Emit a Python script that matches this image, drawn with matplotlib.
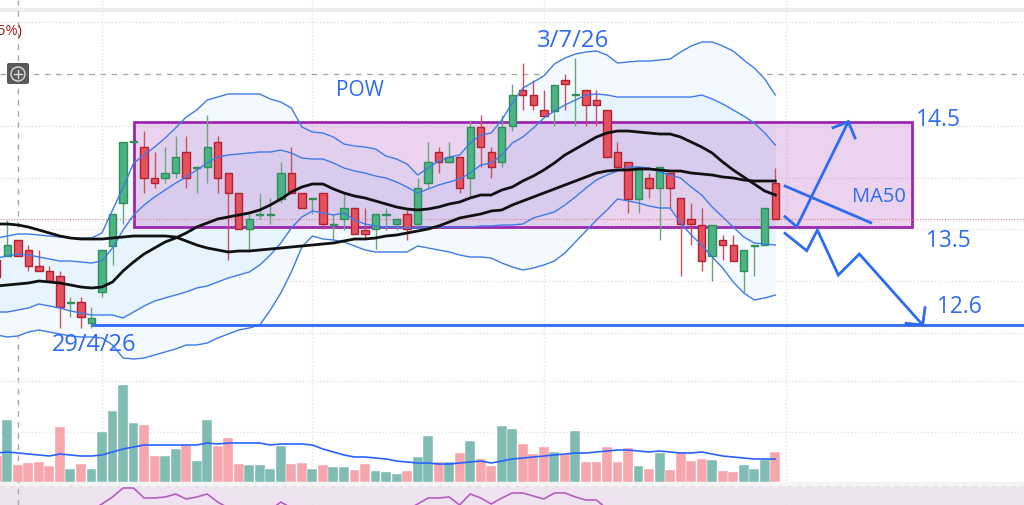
import numpy as np
import matplotlib
matplotlib.use('Agg')
import matplotlib.pyplot as plt
from matplotlib.patches import Rectangle, Circle, FancyBboxPatch
from matplotlib.transforms import Affine2D

# bars, first one is cut by the left edge
bars = list(range(-1, 74))

opens = [13.16,13.20,13.36,13.26,13.10,13.05,13.00,12.73,12.74,12.53,12.84,13.30,13.73,14.34,14.29,13.98,13.98,14.03,14.24,14.08,14.09,14.34,14.03,13.83,13.47,13.61,13.61,13.77,14.03,13.83,13.77,13.83,13.51,13.57,13.68,13.46,13.47,13.61,13.52,13.62,13.52,13.93,14.24,14.14,14.19,13.98,14.49,14.24,14.14,14.50,14.86,14.81,14.66,14.65,14.96,14.81,14.86,14.76,14.66,14.24,14.14,13.77,13.98,13.88,14.03,13.78,13.57,13.51,13.20,13.36,13.31,13.05,13.30,13.31,13.93]
closes = [12.99,13.31,13.20,13.10,13.05,12.95,12.69,12.74,12.59,12.58,13.26,13.62,14.34,14.35,13.98,13.93,14.03,14.19,13.98,14.09,14.29,13.98,13.83,13.47,13.57,13.62,13.62,14.03,13.83,13.68,13.78,13.52,13.52,13.68,13.42,13.42,13.62,13.62,13.57,13.47,13.88,14.14,14.14,14.19,13.88,14.49,14.29,14.09,14.49,14.81,14.81,14.71,14.60,14.91,14.92,14.82,14.71,14.71,14.19,14.09,13.77,14.09,13.88,14.09,13.88,13.52,13.52,13.15,13.51,13.31,13.15,13.26,13.31,13.68,13.57]
highs = [13.16,13.56,13.36,13.31,13.26,13.10,13.05,12.79,12.79,12.69,13.26,13.62,14.34,14.35,14.45,14.24,14.29,14.40,14.40,14.09,14.61,14.40,14.03,13.83,13.62,13.83,13.78,14.14,14.29,13.83,13.78,13.83,13.62,13.83,13.68,13.68,13.62,13.68,13.57,13.66,13.98,14.34,14.29,14.34,14.19,14.56,14.61,14.29,14.61,14.92,15.13,14.96,14.86,14.91,15.02,15.18,14.86,14.86,14.66,14.34,14.14,14.09,14.03,14.09,14.03,13.78,13.73,13.68,13.51,13.41,13.41,13.26,13.31,13.68,14.08]
lows = [12.99,13.20,13.20,13.05,13.05,12.95,12.48,12.59,12.48,12.48,12.79,13.11,13.52,14.34,13.83,13.88,13.93,13.98,13.88,13.83,13.93,13.83,13.16,13.47,13.26,13.57,13.52,13.73,13.83,13.68,13.62,13.47,13.36,13.46,13.42,13.38,13.27,13.46,13.46,13.36,13.49,13.88,14.03,14.13,13.83,13.79,14.09,13.98,14.09,14.45,14.66,14.66,14.60,14.50,14.66,14.50,14.50,14.50,14.19,14.09,13.63,13.63,13.78,13.36,13.68,13.00,13.31,13.05,12.95,13.16,13.15,12.84,13.00,13.31,13.57]

# bollinger bands
bb_upper2 = [13.38,13.40,13.42,13.42,13.41,13.40,13.39,13.38,13.38,13.38,13.43,13.66,13.88,14.13,14.21,14.29,14.38,14.48,14.59,14.66,14.76,14.79,14.82,14.82,14.82,14.82,14.77,14.74,14.68,14.49,14.44,14.43,14.39,14.32,14.30,14.29,14.27,14.20,14.17,14.12,14.01,14.08,14.15,14.19,14.21,14.33,14.41,14.43,14.56,14.73,14.88,14.94,15.00,15.12,15.18,15.22,15.24,15.25,15.21,15.13,15.14,15.15,15.15,15.16,15.17,15.24,15.30,15.34,15.34,15.30,15.25,15.16,15.08,14.97,14.81]
bb_upper1 = [13.18,13.20,13.22,13.21,13.19,13.17,13.15,13.15,13.14,13.13,13.15,13.28,13.46,13.61,13.71,13.79,13.86,13.93,13.99,14.06,14.13,14.19,14.21,14.22,14.23,14.24,14.24,14.26,14.23,14.18,14.17,14.17,14.13,14.08,14.05,14.03,14.00,13.98,13.94,13.89,13.83,13.87,13.91,13.94,13.97,14.03,14.11,14.13,14.21,14.33,14.39,14.48,14.58,14.65,14.71,14.76,14.81,14.82,14.81,14.79,14.79,14.79,14.79,14.79,14.79,14.79,14.79,14.81,14.77,14.72,14.66,14.60,14.53,14.43,14.31]
bb_lower1 = [12.64,12.64,12.66,12.68,12.72,12.70,12.68,12.65,12.63,12.61,12.61,12.61,12.58,12.64,12.70,12.75,12.78,12.81,12.84,12.88,12.90,12.94,12.98,13.01,13.04,13.11,13.21,13.33,13.48,13.59,13.65,13.63,13.61,13.63,13.56,13.52,13.50,13.49,13.49,13.48,13.48,13.49,13.49,13.49,13.49,13.49,13.50,13.50,13.51,13.51,13.52,13.58,13.61,13.64,13.71,13.79,13.88,13.96,14.01,14.05,14.09,14.09,14.08,14.04,14.01,13.98,13.89,13.81,13.69,13.59,13.49,13.39,13.33,13.32,13.31]
bb_lower2 = [12.41,12.39,12.40,12.44,12.46,12.44,12.42,12.40,12.39,12.39,12.38,12.31,12.18,12.17,12.18,12.21,12.24,12.27,12.31,12.31,12.33,12.38,12.42,12.46,12.48,12.51,12.66,12.83,13.04,13.29,13.40,13.37,13.36,13.34,13.30,13.26,13.24,13.24,13.24,13.24,13.30,13.28,13.26,13.24,13.21,13.19,13.19,13.18,13.13,13.09,13.06,13.08,13.11,13.15,13.23,13.34,13.45,13.56,13.66,13.77,13.75,13.73,13.70,13.68,13.68,13.53,13.41,13.31,13.19,13.08,12.94,12.83,12.76,12.78,12.81]

ma_slow = [13.52,13.52,13.51,13.49,13.46,13.43,13.40,13.38,13.37,13.37,13.37,13.38,13.39,13.40,13.40,13.40,13.40,13.39,13.35,13.31,13.28,13.26,13.24,13.25,13.25,13.26,13.27,13.28,13.29,13.30,13.31,13.32,13.33,13.35,13.37,13.37,13.38,13.40,13.41,13.43,13.45,13.47,13.50,13.54,13.58,13.60,13.62,13.65,13.66,13.71,13.75,13.79,13.83,13.87,13.91,13.95,13.99,14.03,14.05,14.06,14.06,14.07,14.07,14.06,14.05,14.05,14.03,14.02,14.01,13.99,13.98,13.96,13.95,13.95,13.95]
ma_fast = [12.90,12.91,12.92,12.93,12.95,12.94,12.93,12.91,12.89,12.88,12.89,12.94,13.05,13.14,13.22,13.28,13.34,13.38,13.43,13.49,13.53,13.57,13.59,13.61,13.63,13.66,13.71,13.77,13.84,13.89,13.92,13.92,13.87,13.83,13.80,13.78,13.75,13.72,13.69,13.67,13.66,13.67,13.69,13.72,13.74,13.78,13.81,13.81,13.86,13.89,13.95,14.00,14.06,14.13,14.21,14.27,14.33,14.39,14.43,14.45,14.45,14.44,14.43,14.42,14.42,14.39,14.34,14.29,14.23,14.14,14.06,13.99,13.92,13.85,13.81]

volume = [26,62,17,19,20,16,55,13,18,13,50,71,97,59,57,26,26,33,37,21,62,36,44,18,17,17,13,36,18,19,13,17,15,15,12,18,11,10,8,11,25,46,20,20,29,41,23,16,56,53,38,28,35,30,28,51,20,20,35,20,34,16,13,29,12,30,21,23,22,11,10,17,13,22,30]
volume_ma = [29,30,29,28,27,26,28,27,26,26,27,30,33,35,37,37,37,37,37,37,39,38,39,39,39,39,37,38,38,38,37,33,30,27,25,25,24,23,21,20,19,19,18,18,19,20,21,19,21,23,24,25,26,27,28,29,29,30,31,32,32,31,30,31,30,29,29,30,28,26,25,24,23,23,23]

rsi_bars = [8,9,10,11,12,13,14,15,16,17,18,19,20,21,22,25,26,27,28,38,39,40,41,42,43,44,45,46,47,48,49,50,51,52,53,54,55,56,57,58]
rsi_vals = [55,61,68,77,77,67,67,68,71,66,68,71,63,57,55,55,63,57,55,55,61,67,67,68,60,71,67,61,67,72,72,69,66,72,72,68,65,65,56,55]

# price levels and drawn lines
box_bars = [12.04, 86]
box_prices = [13.49, 14.54]
support = 12.51
support_start = 7.95
up_bars = [73.92, 75.04, 79.94]
up_prices = [13.593, 13.493, 14.543]
up_head_bars = [78.49, 79.94, 80.58]
up_head_prices = [14.483, 14.543, 14.38]
ma50_bars = [73.92, 82.07]
ma50_prices = [13.90, 13.533]
down_bars = [73.92, 75.99, 77, 78.99, 80.99, 87.01]
down_prices = [13.427, 13.253, 13.46, 13.01, 13.22, 12.51]
down_head_bars = [85.43, 87.01, 87.23]
down_head_prices = [12.527, 12.51, 12.683]
last_price = 13.57
grid_prices = [15.54, 14.5, 13.98, 13.47, 12.95, 12.43]
grid_bars = [9, 29, 51, 74]

W, H = 1024, 505
GREEN = '#4cb386'
GREEN_EDGE = '#2f8f57'
RED = '#e4525f'
RED_EDGE = '#b5202e'
BLUE = '#2f6bf2'
LINE_BLUE = '#3f7be8'
PURPLE = '#9c27b0'
GRID = '#e2e2e2'

plt.rcParams['font.family'] = ['Open Sans', 'DejaVu Sans']

fig = plt.figure(figsize=(W / 100, H / 100), dpi=100)
ax = fig.add_axes([0, 0, 1, 1])
xlim = (-0.694, 96.64)
ax.set_xlim(*xlim)
ax.set_ylim(10.71, 15.76)
ax.axis('off')

# pixel placement for the decorations that are not data
pix = Affine2D().scale(1 / W, -1 / H).translate(0, 1) + ax.transAxes

# top strip
ax.add_patch(Rectangle((0, 8), W, 4, transform=pix, fc='#eeeeee', ec='none', zorder=0))

for p in grid_prices:
    ax.axhline(p, color=GRID, lw=1, ls=(0, (1, 1.5)), zorder=0)
for b in grid_bars:
    ax.axvline(b, color=GRID, lw=1, ls=(0, (1, 1.5)), zorder=0)
ax.axhline(15.02, color='#aaaaaa', lw=1, ls=(0, (4, 4)), zorder=0.5)
ax.axvline(1, color='#a8a8a8', lw=1, ls=(0, (4, 4)), zorder=0.5)

# bands
ax.fill_between(bars, bb_lower2, bb_upper2, color='#f3f9fe', lw=0, zorder=1)
ax.fill_between(bars, bb_lower1, bb_upper1, color='#e7f4fd', lw=0, zorder=1.1)
for band in (bb_upper2, bb_upper1, bb_lower1, bb_lower2):
    ax.plot(bars, band, color=LINE_BLUE, lw=1, zorder=3.5)

# zone
ax.add_patch(Rectangle((box_bars[0], box_prices[0]), box_bars[1] - box_bars[0],
                       box_prices[1] - box_prices[0], fc=PURPLE, alpha=0.2, ec='none', zorder=2))
ax.add_patch(Rectangle((box_bars[0], box_prices[0]), box_bars[1] - box_bars[0],
                       box_prices[1] - box_prices[0], fc='none', ec=PURPLE, lw=2, zorder=2.1))

ax.axhline(last_price, color='#e57b85', lw=0.8, ls=(0, (1, 1.5)), zorder=2.2)

# candles
for i, o, c, h, l in zip(bars, opens, closes, highs, lows):
    up = c >= o
    ax.vlines(i, l, h, color='#6aa57a' if up else '#c9505c', lw=1, zorder=3)
    ax.bar(i, abs(c - o), bottom=min(o, c), width=0.7, color=GREEN if up else RED,
           edgecolor=GREEN_EDGE if up else RED_EDGE, lw=1, zorder=3.2)

ax.plot(bars, ma_slow, color='#111111', lw=2, zorder=4)
ax.plot(bars, ma_fast, color='#111111', lw=2, zorder=4)

# drawings
ax.hlines(support, support_start, xlim[1], color=BLUE, lw=2, zorder=5)
for xs, ys in [(up_bars, up_prices), (up_head_bars, up_head_prices), (ma50_bars, ma50_prices),
               (down_bars, down_prices), (down_head_bars, down_head_prices)]:
    ax.plot(xs, ys, color=BLUE, lw=2, zorder=5, solid_joinstyle='miter')

labels = [('POW', 360, 90, 15), ('3/7/26', 573, 41, 17.3), ('29/4/26', 94, 345, 17),
          ('14.5', 938, 120, 16.5), ('13.5', 948, 241, 16.3), ('MA50', 879, 197, 14.5),
          ('12.6', 959, 307, 16.3)]
for s, x, y, size in labels:
    ax.text(x, y, s, transform=pix, color=BLUE, fontsize=size, ha='center', va='center', zorder=6)
ax.text(-3, 31, '5%)', transform=pix, color='#a01c1c', fontsize=10.5, ha='left', va='center')

# zoom icon
ax.add_patch(FancyBboxPatch((7, 63), 22, 21, boxstyle='round,pad=0,rounding_size=2', transform=pix,
                            fc='#5a5a5a', ec='none', zorder=6))
ax.add_patch(Circle((18, 74), 7, transform=pix, fc='none', ec='#dddddd', lw=1, zorder=7))
ax.plot([14, 22], [74, 74], transform=pix, color='#dddddd', lw=1, zorder=7)
ax.plot([18, 18], [70, 78], transform=pix, color='#dddddd', lw=1, zorder=7)

# volume pane
vax = fig.add_axes([0, (H - 482) / H, 1, 102 / H])
vax.set_xlim(*xlim)
vax.set_ylim(0, 102)
vax.patch.set_alpha(0)
vax.axis('off')
for y in (101, 50):
    vax.axhline(y, color=GRID, lw=1, ls=(0, (1, 1.5)), zorder=0)
vol_colors = ['#80bcb3' if c >= o else '#f6a6ad' for o, c in zip(opens, closes)]
vax.bar(bars, volume, width=0.94, color=vol_colors, edgecolor='#ffffff', lw=0.3, zorder=1)
vax.plot(bars, volume_ma, color='#2962ff', lw=1.2, zorder=2)

# separator and rsi pane
ax.add_patch(Rectangle((0, 482), W, 5, transform=pix, fc='#f4f4f4', ec='none', zorder=0.2))
ax.plot([0, W], [487, 487], transform=pix, color='#8a8a8a', lw=1, ls=(0, (3, 4)), zorder=1)
rax = fig.add_axes([0, 0, 1, 18 / H])
rax.set_xlim(*xlim)
rax.set_ylim(60, 78)
rax.set_facecolor('#f0e3f1')
for s in rax.spines.values():
    s.set_visible(False)
rax.set_xticks([])
rax.set_yticks([])
rax.axvline(1, color='#a8a8a8', lw=1, ls=(0, (4, 4)))
for b in grid_bars:
    rax.axvline(b, color=GRID, lw=1, ls=(0, (1, 1.5)))
rax.plot(rsi_bars, rsi_vals, color='#b45cc0', lw=1.2)

fig.savefig('out.png', dpi=100)
